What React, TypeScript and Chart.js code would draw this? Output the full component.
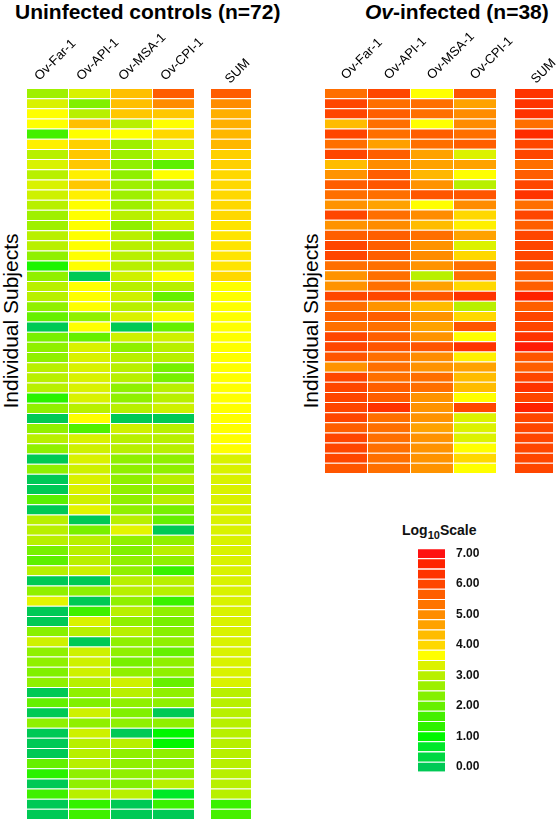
import React, { useEffect, useRef } from 'react';
import { Chart, registerables } from 'chart.js';

Chart.register(...registerables);

const FONT = "'Liberation Sans', Arial, Helvetica, sans-serif";

// ---------- categories ----------
const ANTIGENS = ['Ov-Far-1', 'Ov-API-1', 'Ov-MSA-1', 'Ov-CPI-1'];
const SUM_CAT = ['SUM'];
const Y_TITLE = 'Individual Subjects';

// ---------- Uninfected controls (n=72), log10 values ----------
const UC_FAR = [2.7, 3.3, 3.67, 3.67, 1.67, 3.8, 3.0, 3.3, 3.0, 3.3, 3.2, 3.0, 2.7, 2.7, 3.0, 3.0, 2.5, 1.2, 2.5, 3.0, 3.0, 2.5, 2.0, 0.0, 2.2, 2.5, 2.5, 3.0, 3.0, 3.0, 1.3, 2.5, 0.0, 2.5, 3.0, 2.5, 0.0, 2.5, 0.0, 0.0, 1.9, 0.0, 3.0, 3.0, 3.0, 2.2, 1.9, 3.0, 0.0, 2.5, 3.4, 0.0, 0.0, 2.4, 3.2, 2.5, 2.5, 2.3, 2.5, 0.0, 2.0, 0.0, 2.5, 0.0, 0.0, 0.0, 2.0, 1.3, 0.0, 1.6, 0.0, 0.0];
const UC_API = [3.3, 2.3, 3.0, 4.3, 3.67, 4.1, 4.2, 4.2, 3.8, 4.2, 3.8, 3.67, 3.67, 3.67, 3.67, 3.67, 3.67, 3.67, 0.0, 3.67, 3.67, 3.67, 2.5, 3.67, 2.0, 3.3, 3.3, 3.3, 3.3, 3.3, 3.3, 3.0, 3.67, 1.8, 3.3, 3.2, 3.3, 3.2, 3.3, 3.3, 3.2, 3.4, 0.0, 2.2, 3.0, 3.0, 3.0, 3.2, 0.0, 2.5, 0.0, 1.6, 3.3, 3.0, 0.0, 3.2, 3.2, 3.2, 3.0, 2.5, 2.3, 3.2, 2.5, 3.2, 3.0, 3.0, 3.0, 2.5, 2.5, 3.0, 1.4, 1.6];
const UC_MSA = [4.3, 4.3, 4.2, 3.0, 3.67, 2.7, 2.7, 2.5, 2.5, 2.7, 2.7, 2.7, 3.0, 2.5, 3.0, 3.0, 3.0, 3.0, 3.2, 3.0, 3.2, 3.0, 3.3, 0.0, 3.2, 2.5, 3.0, 3.0, 3.0, 2.5, 2.5, 3.0, 0.0, 3.2, 3.0, 3.0, 2.5, 2.5, 2.5, 2.5, 2.5, 2.5, 3.0, 3.4, 2.5, 2.3, 2.5, 2.5, 3.0, 3.0, 2.5, 3.0, 2.5, 3.0, 2.5, 2.5, 2.2, 2.5, 3.2, 3.0, 2.5, 2.3, 2.5, 0.0, 3.0, 2.5, 2.5, 2.5, 2.3, 3.0, 0.0, 0.0];
const UC_CPI = [5.7, 5.0, 4.2, 3.67, 4.0, 3.3, 3.3, 1.9, 3.67, 2.5, 3.2, 3.2, 3.2, 3.2, 2.3, 3.0, 3.0, 3.0, 3.67, 3.0, 2.0, 3.0, 3.67, 2.0, 3.2, 3.0, 3.0, 2.2, 2.2, 3.0, 3.0, 3.2, 0.0, 3.0, 3.0, 3.0, 2.5, 2.5, 3.0, 2.5, 3.0, 2.2, 2.0, 0.0, 2.5, 3.0, 2.5, 1.5, 3.0, 3.0, 1.5, 2.5, 2.2, 2.4, 2.5, 2.0, 2.5, 2.5, 2.0, 2.5, 2.5, 0.0, 2.5, 1.0, 1.0, 2.5, 2.5, 2.5, 3.0, 0.7, 1.5, 0.0];
const UC_SUM = [5.7, 5.0, 4.5, 4.5, 4.4, 4.4, 4.1, 4.1, 4.0, 4.0, 4.0, 4.0, 4.0, 3.9, 3.9, 3.9, 3.9, 3.9, 4.0, 3.67, 3.67, 3.67, 3.67, 3.67, 3.67, 3.67, 3.67, 3.67, 3.67, 3.67, 3.67, 3.67, 3.67, 3.67, 3.67, 3.67, 3.3, 3.3, 3.3, 3.3, 3.3, 3.3, 3.3, 3.3, 3.3, 3.3, 3.3, 3.3, 3.3, 3.3, 3.3, 3.3, 3.3, 3.3, 3.3, 3.3, 3.3, 3.3, 3.3, 3.0, 3.0, 3.0, 3.0, 3.0, 3.0, 3.0, 3.0, 3.0, 3.0, 3.0, 1.5, 1.7];

// ---------- Ov-infected (n=38), log10 values ----------
const OV_FAR = [5.4, 6.0, 6.0, 4.33, 6.0, 5.4, 6.0, 4.33, 4.9, 5.67, 5.4, 4.9, 6.0, 4.9, 5.67, 6.0, 6.0, 5.4, 4.9, 4.9, 6.0, 5.4, 5.67, 5.4, 6.0, 6.0, 5.8, 4.9, 6.0, 6.0, 6.0, 6.0, 6.0, 5.67, 6.0, 6.0, 6.0, 5.8];
const OV_API = [6.0, 5.4, 5.67, 5.4, 5.4, 4.7, 5.67, 5.0, 5.67, 5.8, 5.4, 4.67, 5.4, 5.0, 5.67, 5.67, 5.67, 5.4, 5.4, 5.4, 6.0, 4.9, 5.67, 5.4, 5.67, 5.8, 5.4, 5.4, 5.4, 5.67, 5.67, 6.33, 5.4, 5.4, 5.4, 5.4, 5.4, 5.4];
const OV_MSA = [3.67, 5.4, 5.4, 3.67, 5.67, 5.4, 4.67, 4.67, 4.4, 4.9, 5.8, 3.67, 5.0, 4.33, 5.4, 4.9, 5.0, 4.9, 3.0, 4.67, 5.8, 4.33, 4.9, 4.67, 4.9, 5.8, 5.0, 4.9, 5.4, 5.4, 4.9, 4.9, 4.9, 4.67, 4.9, 4.9, 4.9, 4.9];
const OV_CPI = [5.8, 4.67, 5.0, 5.0, 5.4, 5.67, 3.33, 4.67, 3.67, 3.0, 5.8, 5.0, 4.0, 3.8, 4.67, 3.33, 4.0, 5.4, 5.4, 4.0, 6.33, 3.0, 4.0, 5.8, 3.67, 6.33, 3.8, 4.67, 4.33, 4.33, 3.67, 6.0, 3.33, 3.33, 3.33, 3.67, 4.0, 3.67];
const OV_SUM = [6.33, 6.33, 6.33, 5.4, 6.5, 6.0, 6.0, 5.4, 5.67, 6.0, 6.33, 5.4, 6.0, 5.67, 6.0, 6.0, 6.0, 5.8, 5.67, 5.67, 6.67, 5.67, 6.0, 6.0, 6.33, 6.8, 5.8, 5.67, 6.0, 6.33, 6.0, 6.67, 6.0, 6.0, 6.0, 6.0, 6.0, 6.0];

// ---------- colour scale (Log10 Scale legend), bottom (0.00) to top (7.00) ----------
const SCALE_VALUES = [0, 0.33, 0.67, 1, 1.33, 1.67, 2, 2.33, 2.67, 3, 3.33, 3.67, 4, 4.33, 4.67, 5, 5.33, 5.67, 6, 6.33, 6.67, 7];
const SCALE_COLORS = [
  '#00c955', '#00d842', '#00e82a', '#00f700', '#2ef200', '#44f000', '#66f000', '#84f000',
  '#9cf000', '#b8f000', '#dcf200', '#ffff00', '#ffd800', '#ffbc00', '#ffa200', '#ff8c00',
  '#ff7400', '#ff5e00', '#ff4600', '#ff3300', '#ff2200', '#ff1010',
];
const SCALE_TICKS = [0, 1, 2, 3, 4, 5, 6, 7];
const SCALE_HALF = 1 / 6;

function hexRgb(h: string): number[] {
  const n = parseInt(h.slice(1), 16);
  return [(n >> 16) & 255, (n >> 8) & 255, n & 255];
}

function colorFor(v: number): string {
  const last = SCALE_VALUES.length - 1;
  if (v <= SCALE_VALUES[0]) return SCALE_COLORS[0];
  if (v >= SCALE_VALUES[last]) return SCALE_COLORS[last];
  let i = 0;
  while (i < last - 1 && v > SCALE_VALUES[i + 1]) i++;
  const f = (v - SCALE_VALUES[i]) / (SCALE_VALUES[i + 1] - SCALE_VALUES[i]);
  const a = hexRgb(SCALE_COLORS[i]);
  const b = hexRgb(SCALE_COLORS[i + 1]);
  const c = a.map((x, k) => Math.round(x + (b[k] - x) * f));
  return `rgb(${c[0]},${c[1]},${c[2]})`;
}

const CELL_LINE = 'rgba(255,255,255,0.8)';

interface HeatOpts {
  padRight: number;
  labelOffset: number;
  labelPad: number;
  headerHeight: number;
}

function heatConfig(labels: string[], columns: number[][], o: HeatOpts): any {
  const n = columns[0].length;
  const datasets = columns[0].map((_, i) => ({
    data: labels.map(() => 1),
    backgroundColor: columns.map((col) => colorFor(col[i])),
    borderColor: CELL_LINE,
    borderWidth: { top: 1, right: 1, bottom: 0, left: 0 },
    borderSkipped: false,
    barPercentage: 1,
    categoryPercentage: 1,
    inflateAmount: 0,
  }));
  return {
    type: 'bar',
    data: { labels, datasets },
    options: {
      responsive: false,
      animation: false,
      devicePixelRatio: 1,
      layout: { padding: { left: 0, top: 0, bottom: 0, right: o.padRight } },
      plugins: { legend: { display: false }, tooltip: { enabled: false }, title: { display: false } },
      scales: {
        x: {
          position: 'top',
          stacked: true,
          grid: { display: false, drawTicks: false },
          border: { display: false },
          ticks: {
            autoSkip: false,
            minRotation: 45,
            maxRotation: 45,
            padding: o.labelPad,
            labelOffset: o.labelOffset,
            color: '#000',
            font: { family: FONT, size: 13 },
          },
          afterFit: (s: any) => {
            s.height = o.headerHeight;
          },
        },
        y: {
          display: false,
          stacked: true,
          reverse: true,
          min: 0,
          max: n,
        },
      },
    },
  };
}

function legendConfig(): any {
  const datasets = SCALE_VALUES.map((v, i) => ({
    data: [[v - SCALE_HALF, v + SCALE_HALF]],
    backgroundColor: SCALE_COLORS[i],
    borderColor: CELL_LINE,
    borderWidth: { top: 1, right: 0, bottom: 0, left: 0 },
    borderSkipped: false,
    grouped: false,
    barPercentage: 1,
    categoryPercentage: 1,
    inflateAmount: 0,
  }));
  return {
    type: 'bar',
    data: { labels: ['Log10Scale'], datasets },
    options: {
      responsive: false,
      animation: false,
      devicePixelRatio: 1,
      layout: { padding: { left: 13, top: 11.7, bottom: 8.3, right: 0 } },
      plugins: { legend: { display: false }, tooltip: { enabled: false } },
      scales: {
        x: { display: false },
        y: {
          position: 'right',
          min: SCALE_VALUES[0] - SCALE_HALF,
          max: SCALE_VALUES[SCALE_VALUES.length - 1] + SCALE_HALF,
          grid: { display: false, drawTicks: false },
          border: { display: false },
          afterBuildTicks: (s: any) => {
            s.ticks = SCALE_TICKS.map((v) => ({ value: v }));
          },
          ticks: {
            padding: 11,
            color: '#111',
            font: { family: FONT, size: 12, weight: 'bold' },
            callback: (v: any) => Number(v).toFixed(2),
          },
          afterFit: (s: any) => {
            s.width = 40;
          },
        },
      },
    },
  };
}

function ChartCanvas(props: { config: () => any; left: number; top: number; width: number; height: number }) {
  const ref = useRef<HTMLCanvasElement | null>(null);
  useEffect(() => {
    if (!ref.current) return;
    const chart = new Chart(ref.current, props.config());
    return () => chart.destroy();
  }, []);
  return (
    <canvas
      ref={ref}
      width={props.width}
      height={props.height}
      style={{ position: 'absolute', left: props.left, top: props.top, width: props.width, height: props.height }}
    />
  );
}

function VerticalLabel(props: { cx: number; cy: number; text: string }) {
  const W = 220;
  const H = 22;
  return (
    <div
      style={{
        position: 'absolute',
        left: props.cx - W / 2,
        top: props.cy - H / 2,
        width: W,
        height: H,
        lineHeight: H + 'px',
        textAlign: 'center',
        fontFamily: FONT,
        fontSize: 21,
        color: '#000',
        whiteSpace: 'nowrap',
        transform: 'rotate(-90deg)',
        transformOrigin: '50% 50%',
      }}
    >
      {props.text}
    </div>
  );
}

export default function App() {
  const titleStyle: React.CSSProperties = {
    position: 'absolute',
    top: 1,
    fontFamily: FONT,
    fontWeight: 'bold',
    fontSize: 21,
    lineHeight: '21px',
    color: '#000',
    whiteSpace: 'nowrap',
  };
  return (
    <div
      style={{
        position: 'absolute',
        left: 0,
        top: 0,
        width: 560,
        height: 820,
        overflow: 'hidden',
        background: '#fff',
      }}
    >
      <div style={{ ...titleStyle, left: 15 }}>Uninfected controls (n=72)</div>
      <div style={{ ...titleStyle, left: 365 }}>
        <i>Ov</i>-infected (n=38)
      </div>

      <VerticalLabel cx={11} cy={321} text={Y_TITLE} />
      <VerticalLabel cx={311} cy={321} text={Y_TITLE} />

      <ChartCanvas
        left={27}
        top={0}
        width={213}
        height={819}
        config={() =>
          heatConfig(ANTIGENS, [UC_FAR, UC_API, UC_MSA, UC_CPI], {
            padRight: 45,
            labelOffset: 0,
            labelPad: 4,
            headerHeight: 88,
          })
        }
      />
      <ChartCanvas
        left={211}
        top={0}
        width={71}
        height={819}
        config={() => heatConfig(SUM_CAT, [UC_SUM], { padRight: 30, labelOffset: 7, labelPad: 1, headerHeight: 88 })}
      />

      <ChartCanvas
        left={325}
        top={0}
        width={217}
        height={473}
        config={() =>
          heatConfig(ANTIGENS, [OV_FAR, OV_API, OV_MSA, OV_CPI], {
            padRight: 45,
            labelOffset: 8,
            labelPad: 5,
            headerHeight: 88,
          })
        }
      />
      <ChartCanvas
        left={515}
        top={0}
        width={45}
        height={473}
        config={() => heatConfig(SUM_CAT, [OV_SUM], { padRight: 6, labelOffset: 10, labelPad: 1, headerHeight: 88 })}
      />

      <div
        style={{
          position: 'absolute',
          left: 402,
          top: 522,
          fontFamily: FONT,
          fontWeight: 'bold',
          fontSize: 14,
          lineHeight: '16px',
          color: '#111',
          whiteSpace: 'nowrap',
        }}
      >
        Log<sub style={{ fontSize: 11, verticalAlign: -4 }}>10</sub>Scale
      </div>
      <ChartCanvas left={405} top={530} width={80} height={260} config={legendConfig} />
    </div>
  );
}
